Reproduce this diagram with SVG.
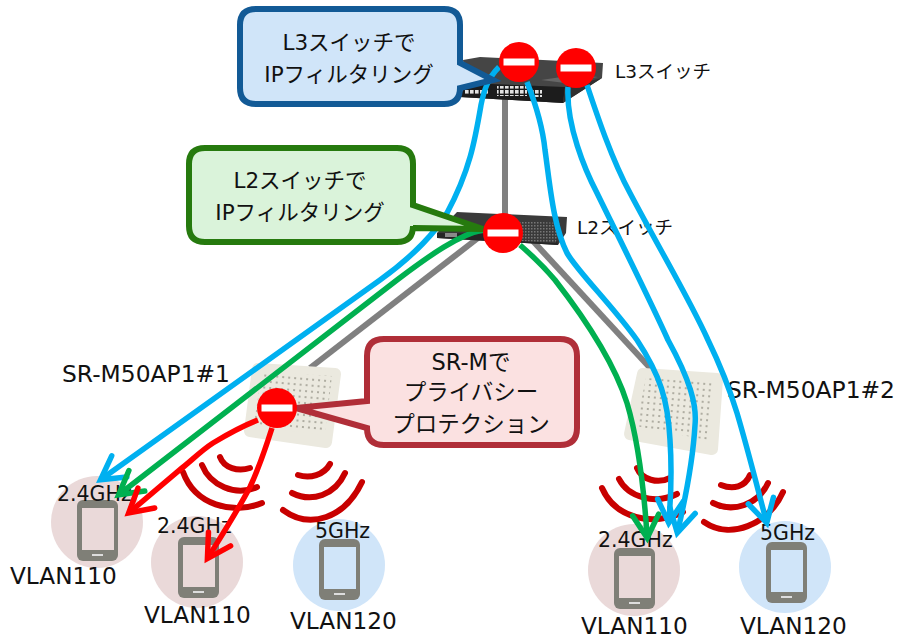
<svg xmlns="http://www.w3.org/2000/svg" width="899" height="640" viewBox="0 0 899 640">
<style>
text{font-family:"DejaVu Sans","Noto Sans CJK JP",sans-serif;fill:#111}
.c{font-size:21.5px;text-anchor:middle}
.m{font-size:22.5px;text-anchor:middle}
.sw{font-size:18.5px}
.ap{font-size:23.4px}
.v{font-size:23.2px}
.g{font-size:20.5px}
.pink{fill:#ead9d9;color:#ead9d9}
.blue{fill:#d0e5f9;color:#d0e5f9}
.wave{fill:none;stroke:#c80000;stroke-width:6;stroke-linecap:round}
.link{fill:none;stroke:#808080;stroke-width:6}
.b,.gr,.r{fill:none;stroke-width:5.5}
.b{stroke:#00b0f0;marker-end:url(#ab)}
.gr{stroke:#00b050;marker-end:url(#ag)}
.r{stroke:#ff0000;marker-end:url(#ar)}
.apo{fill:#ebe9df;stroke:#ebe9df;stroke-width:12;stroke-linejoin:round}
.apd{fill:url(#dots)}
</style>
<defs>
<marker id="ab" markerUnits="userSpaceOnUse" markerWidth="40" markerHeight="40" viewBox="-26 -20 40 40" refX="0" refY="0" orient="auto" overflow="visible"><path d="M-20,-13L3,0L-20,13" fill="none" stroke="#00b0f0" stroke-width="5.5" stroke-linecap="round"/></marker>
<marker id="ag" markerUnits="userSpaceOnUse" markerWidth="40" markerHeight="40" viewBox="-26 -20 40 40" refX="0" refY="0" orient="auto" overflow="visible"><path d="M-20,-13L3,0L-20,13" fill="none" stroke="#00b050" stroke-width="5.5" stroke-linecap="round"/></marker>
<marker id="ar" markerUnits="userSpaceOnUse" markerWidth="40" markerHeight="40" viewBox="-26 -20 40 40" refX="0" refY="0" orient="auto" overflow="visible"><path d="M-20,-13L3,0L-20,13" fill="none" stroke="#ff0000" stroke-width="5.5" stroke-linecap="round"/></marker>
<pattern id="dots" width="6" height="6" patternUnits="userSpaceOnUse" patternTransform="rotate(5)"><circle cx="3" cy="3" r="1" fill="#9b998e"/></pattern>
<pattern id="ports" width="5" height="5" patternUnits="userSpaceOnUse"><rect width="3.600" height="3.600" fill="#e2e2e2"/></pattern>
<pattern id="mesh" width="3" height="3" patternUnits="userSpaceOnUse"><rect width="3" height="3" fill="#3a3a3a"/><rect width="1.500" height="1.500" fill="#777"/></pattern>
<g id="phone"><rect width="41" height="61" rx="6" fill="#7f7f77"/><rect x="5" y="8" width="32" height="42" fill="currentColor"/><rect x="15" y="54" width="11" height="2" fill="#ddd"/></g>
<g id="stop"><circle r="20" fill="#ff0000"/><rect x="-15.500" y="-3.500" width="31" height="7" fill="#fff"/></g>
</defs>
<rect width="899" height="640" fill="#fff"/>

<g id="links">
<path class="link" d="M505 98V220"/>
<path class="link" d="M478 238L310 368"/>
<path class="link" d="M532 240L652 370"/>
</g>

<g id="l3-switch">
<path d="M463 60L480 57L603 63L602 78L563 103L460 97L466 83Z" fill="#454545"/>
<path d="M466 83L565 87L563 103L460 97Z" fill="#1c1c1c"/>
<path d="M565 87L602 78L563 103Z" fill="#303030"/>
<rect x="497" y="86" width="30" height="10" fill="url(#ports)"/>
<rect x="464" y="89" width="24" height="6" fill="url(#ports)"/>
<rect x="530" y="90" width="12" height="7" fill="url(#ports)"/>
<path d="M541 80L565 83L598 77L575 75Z" fill="#666"/>
<text class="sw" x="615" y="78">L3スイッチ</text>
</g>
<g id="l2-switch">
<path d="M437 233L457 212L567 217L566 233L558 245L437 238Z" fill="#3a3a3a"/>
<path d="M437 233L556 235L558 245L437 238Z" fill="#262626"/>
<path d="M520 221L560 223L556 243L520 241Z" fill="url(#mesh)"/>
<rect x="445" y="233" width="12" height="4" fill="#8a8a8a"/>
<text class="sw" x="577" y="234">L2スイッチ</text>
</g>
<g id="ap1">
<path class="apo" d="M258 369L335 374L326 442L250 431Z"/>
<path class="apd" d="M262 372L332 376L325 432L254 424Z"/>
<text class="ap" x="62" y="382">SR-M50AP1#1</text>
</g>
<g id="ap2">
<path class="apo" d="M643 374L717 379L712 449L630 434Z"/>
<path class="apd" d="M646 378L712 382L707 440L636 426Z"/>
<text class="ap" x="727" y="398">SR-M50AP1#2</text>
</g>

<g id="waves">
<path class="wave" d="M220 457C224 468 238 472 250 468M202 465C210 485 235 497 257 487M183 472C195 505 232 515 262 503"/>
<path class="wave" d="M330 464C324 475 310 479 298 475M345 473C335 495 312 503 292 493M362 482C345 518 310 530 283 510"/>
<path class="wave" d="M637 468C642 480 658 484 670 478M619 479C628 497 655 505 677 494M602 488C615 518 652 527 683 512"/>
<path class="wave" d="M750 475C745 487 733 490 721 485M768 483C758 505 733 513 713 503M783 492C768 525 730 540 704 522"/>
</g>

<g id="client1"><circle class="pink" cx="97" cy="522" r="46"/><use href="#phone" x="77" y="500" class="pink"/><text class="g" x="57" y="501">2.4GHz</text><text class="v" x="10" y="584">VLAN110</text></g>
<g id="client2"><circle class="pink" cx="197" cy="562" r="46"/><use href="#phone" x="178" y="537" class="pink"/><text class="g" x="157" y="533">2.4GHz</text><text class="v" x="144" y="623">VLAN110</text></g>
<g id="client3"><circle class="blue" cx="339" cy="565" r="46"/><use href="#phone" x="319" y="539" class="blue"/><text class="g" x="315" y="538">5GHz</text><text class="v" x="290" y="629">VLAN120</text></g>
<g id="client4"><circle class="pink" cx="634" cy="570" r="46"/><use href="#phone" x="614" y="548" class="pink"/><text class="g" x="598" y="547">2.4GHz</text><text class="v" x="581" y="634">VLAN110</text></g>
<g id="client5"><circle class="blue" cx="785" cy="567" r="46"/><use href="#phone" x="766" y="542" class="blue"/><text class="g" x="760" y="540">5GHz</text><text class="v" x="740" y="634">VLAN120</text></g>

<g id="connectors">
<path class="b" d="M499 67C488 78 484 90 481 105C475 140 470 170 447 213C437 230 415 255 380 280L103 478"/>
<path class="gr" d="M483 230C460 234 430 255 397 280L121 493"/>
<path class="gr" d="M520 245C535 258 545 268 555 280C590 325 615 365 627 403C638 440 644 490 647 535"/>
<path class="b" d="M527 82C538 110 543 130 545 150C550 185 553 225 567 253C578 272 612 305 637 340C660 375 668 400 670 440C672 470 671 495 669 520"/>
<path class="b" d="M568 87C566 125 585 170 597 193C620 240 650 300 668 340C690 380 697 405 695 425C693 460 685 500 678 530"/>
<path class="b" d="M587 85C597 115 612 160 630 193C660 250 690 300 708 340C725 375 733 400 737 413C748 450 758 490 766 520"/>
<path class="r" d="M258 420C240 427 228 434 213 443C202 450 192 460 182 468L131 511"/>
<path class="r" d="M272 428C265 450 258 470 250 487C238 510 222 535 209 556"/>
</g>

<g id="callout-l3">
<path d="M256 9H444Q460 9 460 25V63L493 80L460 88Q460 104 444 104H256Q240 104 240 88V25Q240 9 256 9Z" fill="#d0e5f9" stroke="#125a96" stroke-width="6"/>
<text class="c" x="349" y="50">L3スイッチで</text><text class="c" x="349" y="82">IPフィルタリング</text>
</g>
<g id="callout-l2">
<path d="M205 148H397Q413 148 413 164V205L483 229L413 228V226Q413 242 397 242H205Q189 242 189 226V164Q189 148 205 148Z" fill="#daf3da" stroke="#267a0e" stroke-width="6"/>
<text class="c" x="300" y="188">L2スイッチで</text><text class="c" x="300" y="220">IPフィルタリング</text>
</g>
<g id="callout-srm">
<path d="M384 339H560Q577 339 577 356V428Q577 445 560 445H384Q367 445 367 428L296 408L367 401V356Q367 339 384 339Z" fill="#fbe1e1" stroke="#b02e38" stroke-width="6"/>
<text class="m" x="471" y="370">SR-Mで</text><text class="m" x="471" y="400">プライバシー</text><text class="m" x="471" y="432">プロテクション</text>
</g>

<g id="filter-l3-a"><use href="#stop" x="519" y="62"/></g>
<g id="filter-l3-b"><use href="#stop" x="576" y="68"/></g>
<g id="filter-l2"><use href="#stop" x="503" y="233"/></g>
<g id="filter-ap"><use href="#stop" x="277" y="408"/></g>
</svg>
